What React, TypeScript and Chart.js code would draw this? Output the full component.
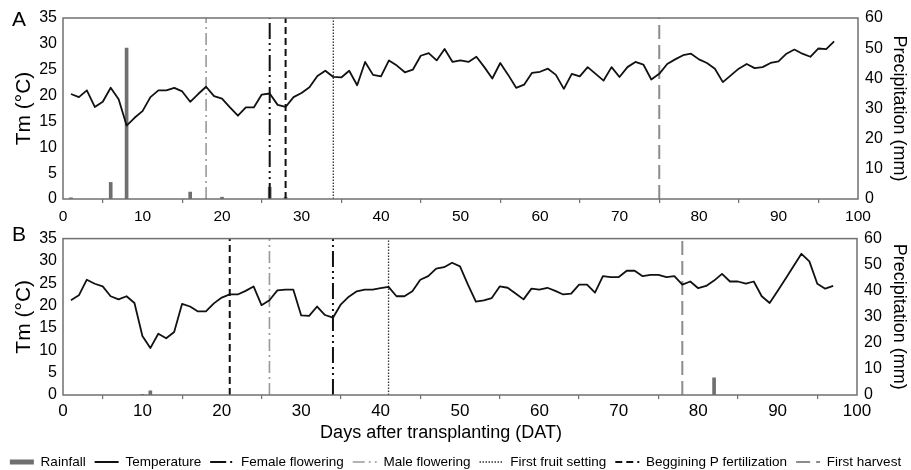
import React, { useEffect, useRef } from 'react';
import { Chart, registerables } from 'chart.js';

Chart.register(...registerables);

const FONT = "'Liberation Sans', Arial, Helvetica, sans-serif";

// Daily mean temperature (°C), days 1..97 after transplanting
const TEMP_A = [
  20.3, 19.7, 21.0, 17.8, 18.8, 21.5, 19.3, 14.2, 15.7, 17.0,
  19.7, 21.0, 21.0, 21.5, 20.8, 18.8, 20.3, 21.7, 19.9, 19.4,
  17.7, 16.1, 17.7, 17.7, 20.2, 20.4, 18.2, 17.8, 19.7, 20.5,
  21.6, 23.8, 24.8, 23.6, 23.5, 24.8, 22.0, 26.5, 24.0, 23.7,
  26.8, 25.8, 24.5, 25.0, 27.7, 28.2, 26.8, 29.0, 26.5, 26.8,
  26.5, 27.5, 25.5, 23.3, 26.3, 24.0, 21.5, 22.1, 24.4, 24.6,
  25.2, 24.0, 21.3, 24.2, 23.7, 25.5, 24.2, 22.9, 25.5, 23.6,
  25.5, 26.5, 26.0, 23.1, 24.2, 26.1, 27.0, 27.8, 28.1, 27.0,
  26.3, 25.2, 22.6, 23.9, 25.2, 26.1, 25.3, 25.5, 26.3, 26.6,
  28.1, 28.9, 28.1, 27.5, 29.1, 29.0, 30.5,
];

const TEMP_B = [
  21.2, 22.3, 25.8, 24.9, 24.3, 22.1, 21.4, 22.1, 20.6, 13.2,
  10.5, 13.7, 12.7, 14.1, 20.4, 19.8, 18.7, 18.7, 20.5, 21.8,
  22.5, 22.5, 23.3, 24.3, 20.1, 21.2, 23.4, 23.6, 23.6, 17.8,
  17.7, 19.8, 17.9, 17.3, 20.3, 22.0, 23.2, 23.6, 23.6, 23.9,
  24.2, 22.1, 22.1, 23.2, 25.8, 26.6, 28.3, 28.6, 29.6, 28.8,
  24.7, 20.9, 21.2, 21.7, 24.3, 24.0, 22.7, 21.4, 23.8, 23.6,
  24.0, 23.3, 22.5, 22.7, 24.7, 24.7, 22.9, 26.6, 26.4, 26.4,
  27.8, 27.8, 26.6, 26.9, 26.9, 26.4, 26.6, 24.7, 25.4, 23.9,
  24.4, 25.6, 27.1, 25.4, 25.4, 24.9, 25.4, 22.1, 20.6, 23.3,
  26.0, 28.8, 31.6, 29.9, 24.9, 23.8, 24.4,
];

// Rainfall (mm)
const RAIN_A_DAYS = [1, 6, 8, 16, 20, 26, 28];
const RAIN_A_MM = [0.4, 5.5, 50, 2.3, 0.6, 3.9, 0.6];
const RAIN_B_DAYS = [10, 11, 82];
const RAIN_B_MM = [0.3, 1.6, 6.6];

// Phenological events (DAT): female flowering, male flowering, first fruit setting, P fertilization, first harvest
const EVENT_LABELS = [
  'Female flowering',
  'Male flowering',
  'First fruit setting',
  'Beggining P fertilization',
  'First harvest',
];
const EVENTS_A = [26, 18, 34, 28, 75];
const EVENTS_B = [34, 26, 41, 21, 78];

const EVENT_STYLES = [
  { color: '#111111', width: 2, dash: [16, 4, 2, 4, 2, 4] },
  { color: '#9a9a9a', width: 1.6, dash: [12, 4, 2, 4] },
  { color: '#333333', width: 1.3, dash: [1.5, 1.5] },
  { color: '#111111', width: 2, dash: [7, 4] },
  { color: '#8c8c8c', width: 2, dash: [14, 6] },
];

const AXIS_COLOR = '#707070';
const RAIN_COLOR = '#6f6f6f';

const decor = {
  id: 'decor',
  afterDatasetsDraw(chart: any, _args: any, opts: any) {
    const { ctx, chartArea: a } = chart;
    ctx.save();
    ctx.strokeStyle = AXIS_COLOR;
    ctx.lineWidth = 1.5;
    ctx.setLineDash([]);
    ctx.strokeRect(a.left, a.top, a.right - a.left, a.bottom - a.top);
    ctx.fillStyle = '#000';
    ctx.textAlign = 'center';
    ctx.textBaseline = 'alphabetic';
    ctx.font = `21px ${FONT}`;
    if (opts.letter) ctx.fillText(opts.letter, opts.letterX, opts.letterY);
    if (opts.xTitle) {
      ctx.font = `18px ${FONT}`;
      ctx.fillText(opts.xTitle, opts.xTitleX, opts.xTitleY);
    }
    ctx.restore();
  },
};

function buildDatasets(temp: number[], rainDays: number[], rainMm: number[], events: number[]) {
  return [
    {
      type: 'bar',
      label: 'Rainfall',
      data: rainDays.map((d, i) => ({ x: d, y: rainMm[i] })),
      yAxisID: 'y2',
      backgroundColor: RAIN_COLOR,
      borderWidth: 0,
      barThickness: 3,
      order: 3,
    },
    {
      type: 'line',
      label: 'Temperature',
      data: temp.map((v, i) => ({ x: i + 1, y: v })),
      yAxisID: 'y',
      borderColor: '#111111',
      borderWidth: 1.8,
      pointRadius: 0,
      tension: 0,
      borderJoinStyle: 'round',
      order: 1,
    },
    ...EVENT_LABELS.map((lab, k) => ({
      type: 'line',
      label: lab,
      data: [
        { x: events[k], y: 0 },
        { x: events[k], y: 35 },
      ],
      yAxisID: 'y',
      borderColor: EVENT_STYLES[k].color,
      borderWidth: EVENT_STYLES[k].width,
      borderDash: EVENT_STYLES[k].dash,
      pointRadius: 0,
      order: 2,
    })),
  ];
}

function makeOptions(p: any) {
  return {
    responsive: false,
    animation: false,
    events: [],
    layout: { padding: { top: p.padTop, bottom: p.padBottom, left: 0, right: 0 } },
    scales: {
      x: {
        type: 'linear',
        min: 0,
        max: 100,
        offset: false,
        ticks: { stepSize: 10, color: '#000', font: { family: FONT, size: p.xTickSize }, padding: p.xTickPad, maxRotation: 0 },
        grid: { drawOnChartArea: false, drawTicks: true, tickLength: 4, color: AXIS_COLOR, lineWidth: 1.2 },
        border: { display: false },
        afterFit: (s: any) => {
          s.height = p.xHeight;
        },
      },
      y: {
        position: 'left',
        min: 0,
        max: 35,
        ticks: { stepSize: 5, color: '#000', font: { family: FONT, size: 16 }, padding: 6 },
        grid: { display: false, drawTicks: false, tickLength: 0 },
        border: { display: false },
        title: { display: true, text: 'Tm (°C)', color: '#000', font: { family: FONT, size: 21 }, padding: { top: 11.5, bottom: 0 } },
        afterFit: (s: any) => {
          s.width = 63;
        },
      },
      y2: {
        position: 'right',
        min: 0,
        max: 60,
        ticks: { stepSize: 10, color: '#000', font: { family: FONT, size: 16 }, padding: 7 },
        grid: { display: false, drawTicks: false, tickLength: 0 },
        border: { display: false },
        title: { display: true, text: 'Precipitation (mm)', color: '#000', font: { family: FONT, size: 18 }, padding: { top: 1.5, bottom: 0 } },
        afterFit: (s: any) => {
          s.width = p.y2Width;
        },
      },
    },
    plugins: {
      tooltip: { enabled: false },
      decor: p.decor,
      legend: p.legend
        ? {
            display: true,
            position: 'bottom',
            align: 'center',
            labels: {
              usePointStyle: true,
              pointStyleWidth: 24,
              padding: 9,
              color: '#000',
              font: { family: FONT, size: 13.5 },
              generateLabels: (chart: any) =>
                chart.data.datasets.map((ds: any, i: number) => ({
                  text: ds.label,
                  fillStyle: 'rgba(0,0,0,0)',
                  strokeStyle: i === 0 ? RAIN_COLOR : ds.borderColor,
                  lineWidth: i === 0 ? 5 : ds.borderWidth,
                  lineDash: ds.borderDash || [],
                  pointStyle: 'line',
                  hidden: false,
                  datasetIndex: i,
                  fontColor: '#000',
                })),
            },
          }
        : { display: false },
    },
  };
}

function Panel(props: { top: number; height: number; temp: number[]; rainDays: number[]; rainMm: number[]; events: number[]; cfg: any }) {
  const ref = useRef<HTMLCanvasElement | null>(null);
  useEffect(() => {
    if (!ref.current) return;
    const chart = new Chart(ref.current, {
      type: 'bar',
      data: { datasets: buildDatasets(props.temp, props.rainDays, props.rainMm, props.events) as any },
      options: makeOptions(props.cfg) as any,
      plugins: [decor as any],
    });
    return () => chart.destroy();
  }, []);
  return (
    <canvas
      ref={ref}
      width={911}
      height={props.height}
      style={{ position: 'absolute', left: 0, top: props.top, width: 911, height: props.height, display: 'block' }}
    />
  );
}

export default function App() {
  return (
    <div style={{ position: 'fixed', left: 0, top: 0, width: 911, height: 470, overflow: 'hidden', background: '#fff' }}>
      <Panel
        top={0}
        height={228}
        temp={TEMP_A}
        rainDays={RAIN_A_DAYS}
        rainMm={RAIN_A_MM}
        events={EVENTS_A}
        cfg={{
          padTop: 18,
          padBottom: 0,
          xHeight: 29,
          xTickSize: 15.5,
          xTickPad: 4,
          y2Width: 53,
          legend: false,
          decor: { letter: 'A', letterX: 19, letterY: 26 },
        }}
      />
      <Panel
        top={222}
        height={260}
        temp={TEMP_B}
        rainDays={RAIN_B_DAYS}
        rainMm={RAIN_B_MM}
        events={EVENTS_B}
        cfg={{
          padTop: 15,
          padBottom: 3.25,
          xHeight: 51.25,
          xTickSize: 17,
          xTickPad: 2,
          y2Width: 54,
          legend: true,
          decor: { letter: 'B', letterX: 19, letterY: 19, xTitle: 'Days after transplanting (DAT)', xTitleX: 441, xTitleY: 216 },
        }}
      />
    </div>
  );
}
